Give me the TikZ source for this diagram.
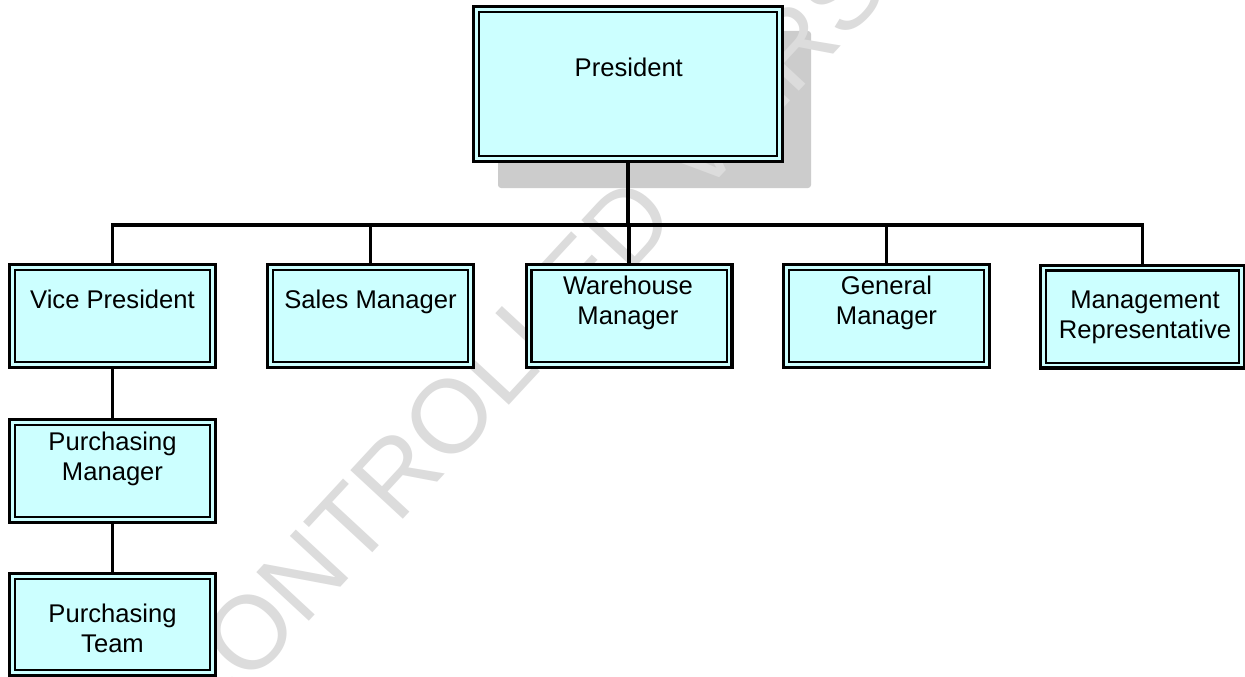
\documentclass[tikz,border=0pt]{standalone}
\usepackage{fontspec}
\setmainfont{Liberation Sans}
\definecolor{boxcyan}{RGB}{204,255,255}
\definecolor{shadowgray}{RGB}{204,204,204}
\definecolor{wmgray}{RGB}{220,220,220}
\begin{document}
\begin{tikzpicture}[x=1pt,y=-1pt,
  orgbox/.style={draw=black, line width=3.3pt, fill=boxcyan, inner sep=0pt, line join=miter,
    path picture={\draw[line width=2.3pt, line join=miter]
      ([xshift=5.2pt,yshift=-5.2pt]path picture bounding box.north west) rectangle
      ([xshift=-5.2pt,yshift=5.2pt]path picture bounding box.south east);}},
  rowbox/.style={orgbox, minimum width=205.7pt, minimum height=102.7pt},
  txt/.style={font=\fontsize{25.6pt}{30.5pt}\selectfont, inner sep=0pt, align=center, anchor=north, text=black},
  barline/.style={line width=3.8pt, line cap=rect},
  dropline/.style={line width=3.3pt},
  chainline/.style={line width=3.6pt},
  watermark/.style={font=\fontsize{104pt}{104pt}\selectfont, text=wmgray, inner sep=0pt}
]
\useasboundingbox (0,0) rectangle (1245,677);
\clip (0,0) rectangle (1245,677);
\fill[white] (0,0) rectangle (1245,677);

% shadow of the top box
\fill[shadowgray, rounded corners=3pt] (498,31) rectangle (811,188);

% watermark (over the shadow, under the chart)
\node[watermark, rotate=47.2, anchor=base west] (wmark) at (196.9,742.1) {CONTROLLED VERSION};

% boxes
\node[orgbox, minimum width=308.7pt, minimum height=154.7pt] (pres) at (628,84) {};
\node[rowbox] (vp) at (112.5,316) {};
\node[rowbox] (sm) at (370.5,316) {};
\node[rowbox] (wm) at (629,316) {};
\node[rowbox] (gm) at (886.5,316) {};
\node[orgbox, minimum width=203.7pt, minimum height=102.7pt] (mr) at (1142.5,316.5) {};
\node[rowbox] (pm) at (112.5,471) {};
\node[orgbox, minimum width=205.7pt, minimum height=101.7pt] (pt) at (112.5,624.5) {};

% connectors
\coordinate (bar) at (628,225);
\draw[barline] (pres.south) -- (pres.south |- bar);
\draw[barline] (vp.north |- bar) -- (mr.north |- bar);
\draw[dropline] (vp.north |- bar) -- (vp.north);
\draw[dropline] (sm.north |- bar) -- (sm.north);
\draw[dropline] (wm.north |- bar) -- (wm.north);
\draw[dropline] (gm.north |- bar) -- (gm.north);
\draw[dropline] (mr.north |- bar) -- (mr.north);
\draw[chainline] (vp.south) -- (pm.north);
\draw[chainline] (pm.south) -- (pt.north);

% texts
\node[txt] (pres-t) at ([xshift=0.8pt,yshift=-52.3pt]pres.north) {President};
\node[txt] (vp-t) at ([yshift=-26.3pt]vp.north) {Vice President};
\node[txt] (sm-t) at ([yshift=-26.3pt]sm.north) {Sales Manager};
\node[txt] (wm-t) at ([xshift=-1pt,yshift=-12.7pt]wm.north) {Warehouse\\Manager};
\node[txt] (gm-t) at ([yshift=-12.7pt]gm.north) {General\\Manager};
\node[txt] (mr-t) at ([xshift=2.5pt,yshift=-27pt]mr.north) {Management\\Representative};
\node[txt] (pm-t) at ([yshift=-13.7pt]pm.north) {Purchasing\\Manager};
\node[txt] (pt-t) at ([yshift=-31.5pt]pt.north) {Purchasing\\Team};
\end{tikzpicture}
\end{document}
